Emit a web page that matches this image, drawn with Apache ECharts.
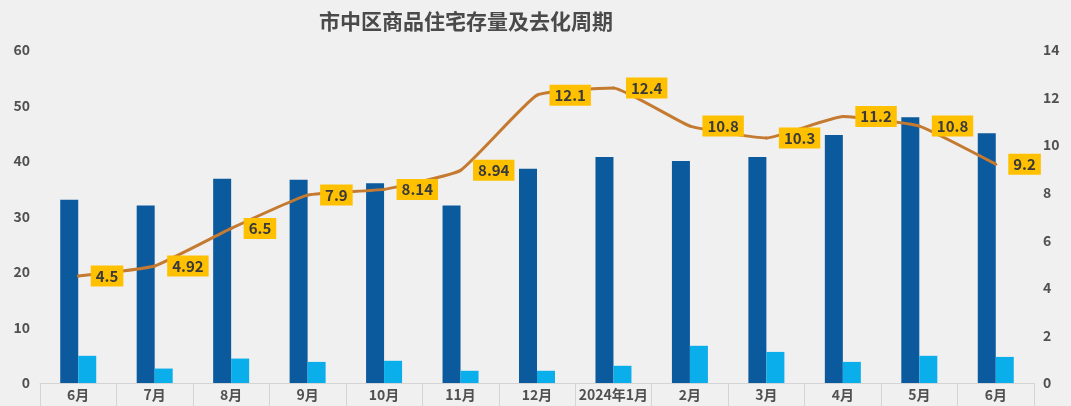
<!DOCTYPE html>
<html>
<head>
<meta charset="utf-8">
<script src="https://cdn.jsdelivr.net/npm/echarts@6/dist/echarts.min.js"></script>
<style>
html,body{margin:0;padding:0;background:#F0F0F0;}
#chart{width:1071px;height:406px;}
</style>
</head>
<body>
<div id="chart"></div>
<script>
const titleText = '市中区商品住宅存量及去化周期';
const categories = ['6月','7月','8月','9月','10月','11月','12月','2024年1月','2月','3月','4月','5月','6月'];
const stockValues = [33.0, 32.0, 36.8, 36.6, 36.0, 32.0, 38.6, 40.7, 40.0, 40.7, 44.7, 47.9, 45.0];
const salesValues = [4.9, 2.6, 4.4, 3.8, 4.0, 2.2, 2.2, 3.1, 6.7, 5.6, 3.8, 4.9, 4.7];
const cycleValues = [4.5, 4.92, 6.5, 7.9, 8.14, 8.94, 12.1, 12.4, 10.8, 10.3, 11.2, 10.8, 9.2];
const leftTicks = {min: 0, max: 60, interval: 10};
const rightTicks = {min: 0, max: 14, interval: 2};

const FONT = '"Noto Sans CJK SC", "Open Sans", sans-serif';
const chart = echarts.init(document.getElementById('chart'), null, {renderer: 'canvas'});
chart.setOption({
  backgroundColor: '#F0F0F0',
  animation: false,
  title: {
    text: titleText,
    left: 461, top: 6, textAlign: 'center',
    textStyle: {fontFamily: FONT, fontSize: 21, fontWeight: 'bold', color: '#4a4a4a'}
  },
  grid: {left: 40, right: 37, top: 50, bottom: 23, containLabel: false},
  xAxis: {
    type: 'category',
    data: categories,
    axisLine: {lineStyle: {color: '#D4D4D4', width: 1}},
    axisTick: {show: true, length: 23, lineStyle: {color: '#D4D4D4'}},
    axisLabel: {margin: 5, fontFamily: FONT, fontSize: 14, fontWeight: 'bold', color: '#505050', interval: 0}
  },
  yAxis: [
    {
      type: 'value', min: leftTicks.min, max: leftTicks.max, interval: leftTicks.interval,
      splitLine: {show: false}, axisLine: {show: false}, axisTick: {show: false},
      axisLabel: {margin: 10, fontFamily: FONT, fontSize: 14, fontWeight: 'bold', color: '#505050'}
    },
    {
      type: 'value', min: rightTicks.min, max: rightTicks.max, interval: rightTicks.interval,
      splitLine: {show: false}, axisLine: {show: false}, axisTick: {show: false},
      axisLabel: {margin: 9, fontFamily: FONT, fontSize: 14, fontWeight: 'bold', color: '#505050', align: 'left'}
    }
  ],
  series: [
    {
      name: '存量', type: 'bar', data: stockValues, yAxisIndex: 0,
      barWidth: 18, barGap: '0%',
      itemStyle: {color: '#0C5A9E'}
    },
    {
      name: '去化', type: 'bar', data: salesValues, yAxisIndex: 0,
      barWidth: 18, barGap: '0%',
      itemStyle: {color: '#0AAEEA'}
    },
    {
      name: '去化周期', type: 'line', data: cycleValues, yAxisIndex: 1,
      smooth: 0.12, symbol: 'circle', symbolSize: 3, showSymbol: true,
      itemStyle: {color: '#C47A30'},
      lineStyle: {color: '#C47A30', width: 3},
      label: {
        show: true, position: 'right', distance: 11,
        backgroundColor: '#FFC000', padding: [4, 5, 2, 5],
        fontFamily: FONT, fontSize: 15, fontWeight: 'bold', color: '#3A3A3A'
      },
      z: 5
    }
  ]
});
</script>
</body>
</html>
